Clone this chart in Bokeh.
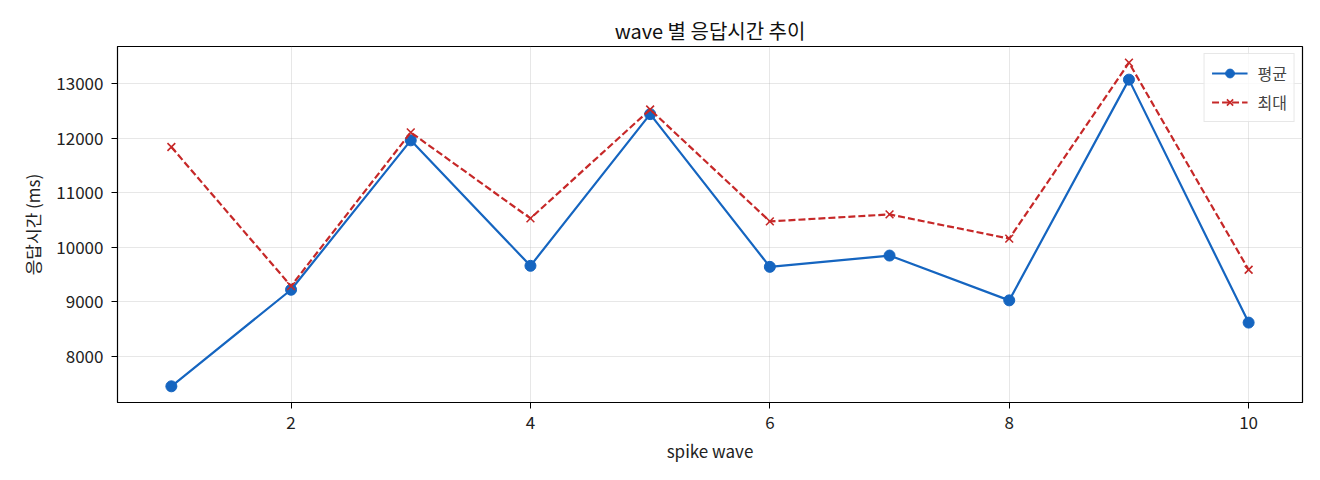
from bokeh.plotting import figure
from bokeh.models import Range1d, FixedTicker
from bokeh.embed import file_html
from bokeh.resources import INLINE

waves = [1, 2, 3, 4, 5, 6, 7, 8, 9, 10]
avg_ms = [7446, 9218, 11959, 9657, 12440, 9638, 9845, 9023, 13073, 8615]
max_ms = [11837, 9285, 12105, 10527, 12525, 10472, 10600, 10156, 13384, 9584]
x_ticks = [2, 4, 6, 8, 10]
y_ticks = [8000, 9000, 10000, 11000, 12000, 13000]

FONT = "Noto Sans CJK KR"
BLUE = "#1565c0"
RED = "#c62828"

p = figure(width=1312, height=472, output_backend="svg", toolbar_location=None,
           title="wave 별 응답시간 추이",
           x_range=Range1d(0.55, 10.45), y_range=Range1d(7149, 13681),
           min_border_left=117, min_border_right=10,
           min_border_top=46, min_border_bottom=70)

p.title.align = "center"
p.title.text_font = FONT
p.title.text_font_size = "20px"
p.title.text_font_style = "normal"
p.title.text_color = "#111111"
p.title.standoff = 4

p.outline_line_color = "black"
p.outline_line_width = 1.2
p.background_fill_color = "white"
p.border_fill_color = "white"

for ax in (p.xaxis[0], p.yaxis[0]):
    ax.major_label_text_font = FONT
    ax.major_label_text_font_size = "17px"
    ax.major_label_text_color = "#222222"
    ax.axis_label_text_font = FONT
    ax.axis_label_text_font_size = "17px"
    ax.axis_label_text_font_style = "normal"
    ax.axis_label_text_color = "#222222"
    ax.axis_line_color = "black"
    ax.major_tick_line_color = "black"
    ax.major_tick_in = 0
    ax.major_tick_out = 6
    ax.minor_tick_line_color = None

p.xaxis.axis_label = "spike wave"
p.yaxis.axis_label = "응답시간 (ms)"
p.xaxis.ticker = FixedTicker(ticks=x_ticks)
p.yaxis.ticker = FixedTicker(ticks=y_ticks)
p.xaxis.major_label_standoff = 7
p.yaxis.major_label_standoff = 8
p.xaxis.axis_label_standoff = 6
p.yaxis.axis_label_standoff = 8

p.grid.grid_line_color = "#b0b0b0"
p.grid.grid_line_alpha = 0.3

p.line(waves, avg_ms, line_color=BLUE, line_width=2.2, legend_label="평균")
p.scatter(waves, avg_ms, marker="circle", size=11, fill_color=BLUE,
          line_color=BLUE, legend_label="평균")
p.line(waves, max_ms, line_color=RED, line_width=2.2, line_dash="7 3",
       legend_label="최대")
p.scatter(waves, max_ms, marker="x", size=11, line_color=RED, line_width=1.6,
          legend_label="최대")

p.legend.location = "top_right"
p.legend.label_text_font = FONT
p.legend.label_text_font_size = "16px"
p.legend.border_line_color = "#d0d0d0"
p.legend.border_line_width = 1
p.legend.background_fill_alpha = 0.8
p.legend.margin = 7
p.legend.padding = 7
p.legend.spacing = 5
p.legend.glyph_width = 36
p.legend.glyph_height = 22
p.legend.label_height = 22
p.legend.label_standoff = 10

open("out.html", "w").write(file_html(p, INLINE))
